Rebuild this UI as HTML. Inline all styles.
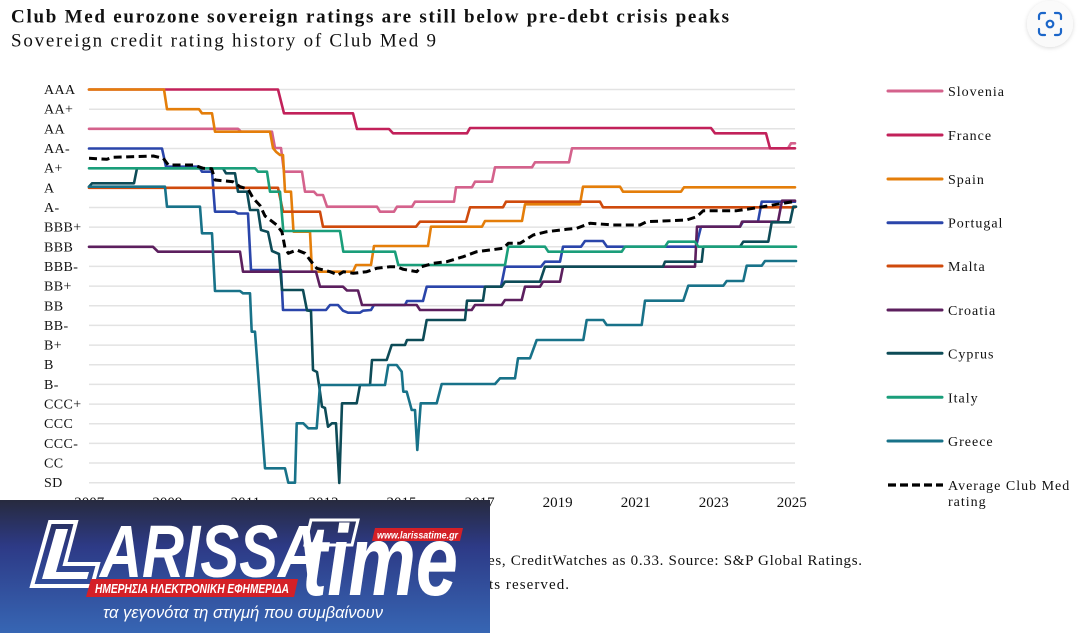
<!DOCTYPE html>
<html>
<head>
<meta charset="utf-8">
<style>
  html,body{margin:0;padding:0;background:#fff;}
  svg{display:block;}
  .ser{fill:none;stroke-width:2.6;stroke-linejoin:round;stroke-linecap:round;}
  .yl{font-family:"Liberation Serif",serif;font-size:14px;fill:#111;letter-spacing:0.4px;}
  .xl{font-family:"Liberation Serif",serif;font-size:15px;fill:#111;text-anchor:middle;}
  .lg{font-family:"Liberation Serif",serif;font-size:14px;fill:#111;letter-spacing:1px;}
</style>
</head>
<body>
<svg width="1090" height="633" viewBox="0 0 1090 633" xmlns="http://www.w3.org/2000/svg">
  <defs>
    <linearGradient id="lgbg" x1="0" y1="0" x2="0" y2="1">
      <stop offset="0" stop-color="#272a3e"/>
      <stop offset="0.35" stop-color="#2d3a86"/>
      <stop offset="1" stop-color="#3766b4"/>
    </linearGradient>
    <filter id="sh" x="-30%" y="-30%" width="160%" height="160%">
      <feDropShadow dx="0" dy="1" stdDeviation="2" flood-color="#000" flood-opacity="0.15"/>
    </filter>
  </defs>

  <!-- Title -->
  <text x="11" y="22.5" font-family="Liberation Serif, serif" font-weight="bold" font-size="19" fill="#111" textLength="718" lengthAdjust="spacing">Club Med eurozone sovereign ratings are still below pre-debt crisis peaks</text>
  <text x="11" y="46.5" font-family="Liberation Serif, serif" font-size="19" fill="#111" textLength="425" lengthAdjust="spacing">Sovereign credit rating history of Club Med 9</text>

  <!-- icon -->
  <circle cx="1050" cy="24" r="23" fill="#fafafa" filter="url(#sh)"/>
  <g fill="none" stroke="#1b66c9" stroke-width="2.2" stroke-linecap="round">
    <path d="M1039 19 v-3 a3 3 0 0 1 3 -3 h3"/>
    <path d="M1055 13 h3 a3 3 0 0 1 3 3 v3"/>
    <path d="M1061 29 v3 a3 3 0 0 1 -3 3 h-3"/>
    <path d="M1045 35 h-3 a3 3 0 0 1 -3 -3 v-3"/>
    <circle cx="1050" cy="24" r="3.3"/>
  </g>

  <!-- gridlines -->
  <g stroke="#e3e3e3" stroke-width="1.5">
    <line x1="89" x2="795" y1="89.5" y2="89.5"/>
    <line x1="89" x2="795" y1="109.2" y2="109.2"/>
    <line x1="89" x2="795" y1="128.8" y2="128.8"/>
    <line x1="89" x2="795" y1="148.5" y2="148.5"/>
    <line x1="89" x2="795" y1="168.1" y2="168.1"/>
    <line x1="89" x2="795" y1="187.8" y2="187.8"/>
    <line x1="89" x2="795" y1="207.5" y2="207.5"/>
    <line x1="89" x2="795" y1="227.1" y2="227.1"/>
    <line x1="89" x2="795" y1="246.8" y2="246.8"/>
    <line x1="89" x2="795" y1="266.4" y2="266.4"/>
    <line x1="89" x2="795" y1="286.1" y2="286.1"/>
    <line x1="89" x2="795" y1="305.8" y2="305.8"/>
    <line x1="89" x2="795" y1="325.4" y2="325.4"/>
    <line x1="89" x2="795" y1="345.1" y2="345.1"/>
    <line x1="89" x2="795" y1="364.7" y2="364.7"/>
    <line x1="89" x2="795" y1="384.4" y2="384.4"/>
    <line x1="89" x2="795" y1="404.1" y2="404.1"/>
    <line x1="89" x2="795" y1="423.7" y2="423.7"/>
    <line x1="89" x2="795" y1="443.4" y2="443.4"/>
    <line x1="89" x2="795" y1="463.0" y2="463.0"/>
    <line x1="89" x2="795" y1="482.7" y2="482.7"/>
  </g>

  <!-- y labels -->
  <g class="yl">
    <text x="44" y="94">AAA</text>
    <text x="44" y="113.7">AA+</text>
    <text x="44" y="133.3">AA</text>
    <text x="44" y="153">AA-</text>
    <text x="44" y="172.6">A+</text>
    <text x="44" y="192.3">A</text>
    <text x="44" y="212">A-</text>
    <text x="44" y="231.6">BBB+</text>
    <text x="44" y="251.3">BBB</text>
    <text x="44" y="270.9">BBB-</text>
    <text x="44" y="290.6">BB+</text>
    <text x="44" y="310.3">BB</text>
    <text x="44" y="329.9">BB-</text>
    <text x="44" y="349.6">B+</text>
    <text x="44" y="369.2">B</text>
    <text x="44" y="388.9">B-</text>
    <text x="44" y="408.6">CCC+</text>
    <text x="44" y="428.2">CCC</text>
    <text x="44" y="447.9">CCC-</text>
    <text x="44" y="467.5">CC</text>
    <text x="44" y="487.2">SD</text>
  </g>

  <!-- x labels -->
  <g class="xl">
    <text x="89.3" y="507">2007</text>
    <text x="167.4" y="507">2009</text>
    <text x="245.4" y="507">2011</text>
    <text x="323.5" y="507">2013</text>
    <text x="401.5" y="507">2015</text>
    <text x="479.6" y="507">2017</text>
    <text x="557.6" y="507">2019</text>
    <text x="635.7" y="507">2021</text>
    <text x="713.7" y="507">2023</text>
    <text x="791.8" y="507">2025</text>
  </g>

  <!-- series -->
  <polyline class="ser" stroke="#d4628c" points="89,128.8 238,128.8 241,131.7 272,131.7 275,148 281,148 284,171.7 302,171.7 305,191.7 314,191.7 317,195 323,195 327,206.7 377,206.7 380,211.7 394,211.7 397,206.7 412,206.7 415,201.7 454,201.7 456,187.3 472,187.3 475,181.7 492,181.7 495,167.3 532,167.3 535,162.3 569,162.3 572,148.3 788,148.3 791,143.3 795,143.3"/>
  <polyline class="ser" stroke="#c2215a" points="89,89.5 278,89.5 284,113.3 353,113.3 357,129 389,129 393,133.3 467,133.3 470,128 711,128 715,133.3 766,133.3 770,148.3 795,148.3"/>
  <polyline class="ser" stroke="#e47e0a" points="89,89.5 164,89.5 167,109.2 199,109.2 202,113.3 212,113.3 215,131.7 270,131.7 273,148 276,151.7 280,155 283,155 285,191.7 291,191.7 293.5,231.7 310,231.7 312,271.7 353,271.7 356,265 371,265 374,246 428,246 431,226.7 482,226.7 485,221 522,221 525,204.3 580,204.3 583,186.7 620,186.7 623,191.7 681,191.7 684,187.3 795,187.3"/>
  <polyline class="ser" stroke="#2a45aa" points="89,148.5 162,148.5 166,166.7 199,166.7 202,171.7 212,171.7 215,211.7 235,211.7 238,213.5 248,213.5 251,270 281,270 283,310 326,310 330,305 338,305 343,310.7 348,312.7 360,312.7 363,310.7 371,310 374,305 405,305 407,301 423,301 426.7,286.7 501,286.7 505,266.7 541,266.7 545,261.7 560,261.7 563,246.7 581,246.7 585,241 603,241 607,246.7 696,246.7 701,226.7 740,226.7 743,221.7 758,221.7 761.7,201.7 795,201.7"/>
  <polyline class="ser" stroke="#cf4a0c" points="89,187.8 278,187.8 283,211.7 320,211.7 323,226.7 416,226.7 420,221.7 466,221.7 470,207.3 503,207.3 506,201.7 600,201.7 603,207.3 795,207.3"/>
  <polyline class="ser" stroke="#5c1f5e" points="89,246.8 153,246.8 158,251.7 240,251.7 243,271.7 316,271.7 320,286.7 343,286.7 347,290.5 358,290.5 362,305 416.7,305 420,310 471.7,310 475,305 501.7,305 505,300 521.7,300 525,286.7 540,286.7 543,281.7 560,281.7 563,266.7 695,266.7 697,226.7 740,226.7 742,221.7 778,221.7 782,200.7 795,200.7"/>
  <polyline class="ser" stroke="#0d4b57" points="89,186.7 92,183.3 134,183.3 137,168.3 223,168.3 226,173.3 235,173.3 238,191.7 247,191.7 250,210 258,210 261,230 268,232 272,251 279,254 282,290 303,290 307,310.5 311,311 313,370 317,372 319,385 322,406.7 325,408 328,426.7 332,423.3 336,423.3 339.3,483 342,403.3 356.7,403.3 360,385 370,385 372,360 386.7,360 391.7,345 405,345 407,340 423,340 426.7,320 465,320 467,300.7 483,300.7 485,286.7 501.7,286.7 505,281.7 540,281.7 545,266.7 663,266.7 665,261.7 701.7,261.7 703.3,246.7 740,246.7 743.3,241.7 768.3,241.7 771.7,222.3 790,222.3 793.3,206.7 796,206.7"/>
  <polyline class="ser" stroke="#1a9e7a" points="89,168.3 255,168.3 258,171.7 267,171.7 270,191.7 280,191.7 283.3,231 340,231 343.3,251.7 395,251.7 398.3,265 505,265 508.3,246.7 545,246.7 548.3,251.7 621.7,251.7 625,246.7 665,246.7 668.3,241.7 695,241.7 698.3,246.7 796,246.7"/>
  <polyline class="ser" stroke="#187289" points="89,186.7 165,186.7 167,206.7 200,206.7 202,233.3 212,233.3 215,291 240,291 243,293.3 250,293.3 251.7,331.7 255,331.7 265,468.3 285,468.3 288.3,482.7 295,482.7 296.7,423.3 303.3,423.3 308.3,428.3 316.7,428.3 320,385 385,385 388.3,365 396.7,365 401.7,371.7 403.3,391.7 406.7,391.7 411.7,410 415,410 417.3,450 420.7,403.3 436.7,403.3 441.7,384 495,384 500,378.3 515,378.3 518,358.3 530,358.3 536.7,340 583.3,340 586.7,320 603.3,320 606.7,325 641.7,325 645,300.7 683.3,300.7 688.3,285.7 723.3,285.7 726.7,281 743.3,281 746.7,265.7 761.7,265.7 765,261 796,261"/>
  <polyline fill="none" stroke="#000" stroke-width="3" stroke-dasharray="8,4.5" stroke-linejoin="round" points="89,158.3 106.7,159.3 113,157.3 153.3,156 163.3,158.3 168.3,165 193.3,165 203.3,168.3 211.7,168.7 215,180 233,181.7 240,186.7 248,189 253,198 260,205.5 265,216 276.7,225 282,232 285,248 288.3,253.3 296.7,250 305,253.3 310,260 316.7,268.3 330,271.7 338.3,275 343.3,271.7 353.3,273.3 366.7,271.7 376.7,268.3 390,266.7 396.7,266.7 403.3,269.3 416.7,271.7 421.7,266.7 433.3,263.3 446.7,261.7 463.3,256.7 476.7,251.7 503.3,248.3 508.3,243.3 520,243.3 533.3,235 546.7,231.7 566.7,229.3 576.7,228.3 590,223.3 600,224 613.3,225 640,225 646.7,221.7 686.7,220 696.7,216.7 703.3,210.7 736.7,210.7 746.7,209.3 753.3,208.3 763.3,206.7 776.7,204.3 793.3,201.7"/>

  <!-- Legend -->
  <g stroke-width="3" stroke-linecap="round">
    <line x1="888" x2="942" y1="91" y2="91" stroke="#d4628c"/>
    <line x1="888" x2="942" y1="135" y2="135" stroke="#c2215a"/>
    <line x1="888" x2="942" y1="179" y2="179" stroke="#e47e0a"/>
    <line x1="888" x2="942" y1="222.7" y2="222.7" stroke="#2a45aa"/>
    <line x1="888" x2="942" y1="266" y2="266" stroke="#cf4a0c"/>
    <line x1="888" x2="942" y1="310" y2="310" stroke="#5c1f5e"/>
    <line x1="888" x2="942" y1="353.3" y2="353.3" stroke="#0d4b57"/>
    <line x1="888" x2="942" y1="397.3" y2="397.3" stroke="#1a9e7a"/>
    <line x1="888" x2="942" y1="441" y2="441" stroke="#187289"/>
  </g>
  <line x1="888" x2="943" y1="485" y2="485" stroke="#000" stroke-width="3.2" stroke-dasharray="8,4"/>
  <g class="lg">
    <text x="948" y="96">Slovenia</text>
    <text x="948" y="140">France</text>
    <text x="948" y="184">Spain</text>
    <text x="948" y="227.7">Portugal</text>
    <text x="948" y="271">Malta</text>
    <text x="948" y="315">Croatia</text>
    <text x="948" y="358.3">Cyprus</text>
    <text x="948" y="402.3">Italy</text>
    <text x="948" y="446">Greece</text>
    <text x="948" y="490">Average Club Med</text>
    <text x="948" y="506">rating</text>
  </g>

  <!-- footnote -->
  <text x="488" y="565" font-family="Liberation Serif, serif" font-size="15" fill="#111" textLength="374" lengthAdjust="spacing">es, CreditWatches as 0.33. Source: S&amp;P Global Ratings.</text>
  <text x="489" y="589" font-family="Liberation Serif, serif" font-size="15" fill="#111" textLength="80" lengthAdjust="spacing">ts reserved.</text>

  <!-- Logo overlay -->
  <rect x="0" y="500" width="490" height="133" fill="url(#lgbg)"/>
  <polygon points="50,522 76,522 65,564 98,564 92,586 32,586" fill="none" stroke="#fff" stroke-width="4" stroke-linejoin="miter"/>
  <polygon points="56,529 68,529 56,572 89,572 87,579 42,579" fill="#fff"/>
  <text x="100" y="577" font-family="Liberation Sans, sans-serif" font-weight="bold" font-style="italic" font-size="74" fill="#fff" textLength="220" lengthAdjust="spacingAndGlyphs">ARISSA</text>
  <polygon points="311,520 358,520 352,545 305,545" fill="none" stroke="#fff" stroke-width="3"/>
  <text x="302" y="595" font-family="Liberation Sans, sans-serif" font-weight="bold" font-style="italic" font-size="100" fill="#fff" textLength="156" lengthAdjust="spacingAndGlyphs">time</text>
  <polygon points="91,579 298,579 294,597 86,597" fill="#d42027"/>
  <text x="95" y="593" font-family="Liberation Sans, sans-serif" font-weight="bold" font-style="italic" font-size="13" fill="#fff" textLength="194" lengthAdjust="spacingAndGlyphs">ΗΜΕΡΗΣΙΑ ΗΛΕΚΤΡΟΝΙΚΗ ΕΦΗΜΕΡΙΔΑ</text>
  <polygon points="375,528 463,528 460,541 372,541" fill="#d42027"/>
  <text x="377" y="538.5" font-family="Liberation Sans, sans-serif" font-weight="bold" font-style="italic" font-size="10" fill="#fff" textLength="81" lengthAdjust="spacingAndGlyphs">www.larissatime.gr</text>
  <text x="103" y="618" font-family="Liberation Sans, sans-serif" font-style="italic" font-size="17" fill="#fff" textLength="280" lengthAdjust="spacingAndGlyphs">τα γεγονότα τη στιγμή που συμβαίνουν</text>
</svg>
</body>
</html>
